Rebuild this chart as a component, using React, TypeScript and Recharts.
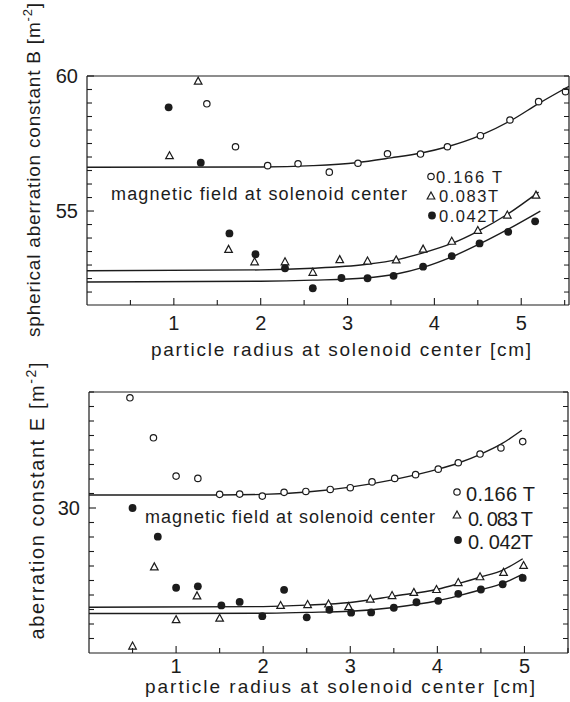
import React from 'react';
import { ComposedChart, Line, Scatter, XAxis, YAxis } from 'recharts';

// upper panel: spherical aberration constant B [m^-2] vs particle radius [cm]
const bRadius166 = [1.38, 1.71, 2.08, 2.43, 2.79, 3.12, 3.46, 3.84, 4.15, 4.53, 4.87, 5.2, 5.51];
const bValue166 = [58.97, 57.38, 56.68, 56.75, 56.44, 56.77, 57.12, 57.11, 57.38, 57.79, 58.37, 59.05, 59.42];
const bRadius083 = [0.95, 1.28, 1.63, 1.93, 2.28, 2.6, 2.91, 3.23, 3.56, 3.87, 4.2, 4.5, 4.84, 5.17];
const bValue083 = [57.05, 59.81, 53.58, 53.12, 53.12, 52.73, 53.2, 53.15, 53.19, 53.59, 53.88, 54.28, 54.85, 55.59];
const bRadius042 = [0.94, 1.31, 1.64, 1.94, 2.28, 2.6, 2.93, 3.23, 3.53, 3.87, 4.2, 4.52, 4.85, 5.16];
const bValue042 = [58.84, 56.79, 54.17, 53.4, 52.88, 52.14, 52.52, 52.51, 52.6, 52.94, 53.33, 53.8, 54.23, 54.62];

// fitted curves
const bFitR166 = [0, 2, 2.6, 3.1, 3.5, 3.85, 4.15, 4.53, 4.87, 5.2, 5.55];
const bFit166 = [56.62, 56.63, 56.68, 56.79, 56.97, 57.15, 57.38, 57.8, 58.33, 58.98, 59.62];
const bFitR083 = [0, 2, 2.6, 3.2, 3.6, 3.87, 4.2, 4.5, 4.85, 5.2];
const bFit083 = [52.79, 52.82, 52.88, 53.02, 53.22, 53.45, 53.8, 54.25, 54.9, 55.7];
const bFitR042 = [0, 2, 2.6, 3.2, 3.55, 3.88, 4.2, 4.52, 4.85, 5.22];
const bFit042 = [52.37, 52.4, 52.44, 52.52, 52.66, 52.92, 53.3, 53.78, 54.33, 55.0];

// lower panel: aberration constant E [m^-2]
const eRadius166 = [0.47, 0.74, 1.0, 1.25, 1.5, 1.73, 1.99, 2.24, 2.49, 2.77, 3.0, 3.25, 3.51, 3.75, 4.01, 4.24, 4.49, 4.73, 4.98];
const eValue166 = [33.8, 32.42, 31.1, 31.02, 30.47, 30.48, 30.41, 30.54, 30.57, 30.64, 30.7, 30.9, 31.02, 31.15, 31.34, 31.56, 31.86, 32.07, 32.29];
const eRadius083 = [0.5, 0.75, 1.0, 1.24, 1.5, 2.2, 2.51, 2.75, 2.98, 3.23, 3.48, 3.73, 3.99, 4.24, 4.49, 4.76, 4.99];
const eValue083 = [25.24, 27.97, 26.15, 26.97, 26.2, 26.64, 26.67, 26.69, 26.6, 26.86, 26.98, 27.09, 27.19, 27.43, 27.63, 27.78, 28.02];
const eRadius042 = [0.5, 0.79, 1.0, 1.25, 1.52, 1.73, 1.99, 2.24, 2.5, 2.76, 3.01, 3.24, 3.5, 3.76, 4.01, 4.24, 4.5, 4.75, 4.98];
const eValue042 = [30.0, 29.01, 27.25, 27.3, 26.64, 26.76, 26.27, 27.18, 26.23, 26.49, 26.39, 26.4, 26.56, 26.75, 26.8, 27.04, 27.19, 27.37, 27.59];

const eFitR166 = [0, 1.5, 2, 2.5, 3, 3.5, 4, 4.25, 4.5, 4.73, 4.97];
const eFit166 = [30.45, 30.45, 30.47, 30.55, 30.72, 30.98, 31.33, 31.56, 31.86, 32.2, 32.68];
const eFitR083 = [0, 2, 2.5, 3, 3.5, 4, 4.25, 4.5, 4.75, 4.98];
const eFit083 = [26.58, 26.6, 26.65, 26.74, 26.96, 27.2, 27.4, 27.62, 27.86, 28.25];
const eFitR042 = [0, 2, 2.5, 3, 3.5, 4, 4.25, 4.5, 4.75, 4.98];
const eFit042 = [26.36, 26.37, 26.4, 26.44, 26.57, 26.8, 26.98, 27.18, 27.4, 27.72];

// ticks
const bXTicks = [0.5, 1, 1.5, 2, 2.5, 3, 3.5, 4, 4.5, 5, 5.5];
const bYTicks = [52, 52.5, 53, 53.5, 54, 54.5, 55, 55.5, 56, 56.5, 57, 57.5, 58, 58.5, 59, 59.5, 60];
const bYLabels = [55, 60];
const eXTicks = [0.5, 1, 1.5, 2, 2.5, 3, 3.5, 4, 4.5, 5, 5.5];
const eYTicks = [25.5, 26, 26.5, 27, 27.5, 28, 28.5, 29, 29.5, 30, 30.5, 31, 31.5, 32, 32.5, 33, 33.5, 34];
const eYLabels = [25, 30];

const INK = '#1c1c1c';
const FONT = '"Liberation Sans", Arial, sans-serif';

const pts = (xs: number[], ys: number[]) => xs.map((x, i) => ({ x, y: ys[i] }));

const OpenCircle = (p: any) => (
  <circle cx={p.cx} cy={p.cy} r={3.2} fill="#fff" stroke={INK} strokeWidth={1.2} />
);
const OpenTriangle = (p: any) => (
  <path
    d={`M${p.cx},${p.cy - 4} L${p.cx + 3.8},${p.cy + 3} L${p.cx - 3.8},${p.cy + 3} Z`}
    fill="#fff" stroke={INK} strokeWidth={1.2}
  />
);
const FilledCircle = (p: any) => <circle cx={p.cx} cy={p.cy} r={3.9} fill={INK} />;

const bottomTick = (labelDy: number) => (props: any) => {
  const { x, y, payload } = props;
  const v = payload.value as number;
  const major = Number.isInteger(v);
  return (
    <g>
      <line x1={x} y1={y} x2={x} y2={y - (major ? 7 : 5)} stroke={INK} strokeWidth={1.1} />
      {major && (
        <text x={x} y={y + labelDy} textAnchor="middle" fontSize={20} fontFamily={FONT} fill={INK}>{v}</text>
      )}
    </g>
  );
};

const leftTick = (labels: number[]) => (props: any) => {
  const { x, y, payload } = props;
  const v = payload.value as number;
  const major = labels.includes(v);
  return (
    <g>
      <line x1={x} y1={y} x2={x + (major ? 7 : 5)} y2={y} stroke={INK} strokeWidth={1.1} />
      {major && (
        <text x={x - 9} y={y + 7} textAnchor="end" fontSize={20} fontFamily={FONT} fill={INK}>{v}</text>
      )}
    </g>
  );
};

const topTick = (props: any) => (
  <line x1={props.x} y1={props.y} x2={props.x} y2={props.y + 4} stroke={INK} strokeWidth={1} />
);
const rightTick = (props: any) => (
  <line x1={props.x} y1={props.y} x2={props.x - 5} y2={props.y} stroke={INK} strokeWidth={1} />
);

interface Series {
  marks: { x: number; y: number }[];
  fit: { x: number; y: number }[];
  shape: (p: any) => React.ReactElement;
}

interface PanelProps {
  top: number;
  height: number;
  margin: { top: number; right: number; bottom: number; left: number };
  xDomain: [number, number];
  yDomain: [number, number];
  xTicks: number[];
  yTicks: number[];
  yLabels: number[];
  xLabelDy: number;
  series: Series[];
}

// axes get a 1px band each (a 0px axis is not drawn), margins are reduced by 1 to compensate
const Panel: React.FC<PanelProps> = ({ top, height, margin, xDomain, yDomain, xTicks, yTicks, yLabels, xLabelDy, series }) => (
  <div style={{ position: 'absolute', left: 0, top }}>
    <ComposedChart width={570} height={height} margin={margin}>
      <XAxis type="number" dataKey="x" domain={xDomain} ticks={xTicks} interval={0} height={1}
        tickSize={0} tickMargin={0} tickLine={false} tick={bottomTick(xLabelDy)}
        axisLine={{ stroke: INK, strokeWidth: 1.2 }} allowDataOverflow />
      <XAxis xAxisId="top" orientation="top" type="number" domain={xDomain} ticks={xTicks} interval={0} height={1}
        tickSize={0} tickMargin={0} tickLine={false} tick={topTick}
        axisLine={{ stroke: INK, strokeWidth: 1.2 }} allowDataOverflow />
      <YAxis type="number" dataKey="y" domain={yDomain} ticks={yTicks} interval={0} width={1}
        tickSize={0} tickMargin={0} tickLine={false} tick={leftTick(yLabels)}
        axisLine={{ stroke: INK, strokeWidth: 1.2 }} allowDataOverflow />
      <YAxis yAxisId="right" orientation="right" type="number" domain={yDomain} ticks={yTicks} interval={0} width={1}
        tickSize={0} tickMargin={0} tickLine={false} tick={rightTick}
        axisLine={{ stroke: INK, strokeWidth: 1.2 }} allowDataOverflow />
      {series.map((s, i) => (
        <Line key={`fit${i}`} data={s.fit} dataKey="y" type="monotone" stroke={INK} strokeWidth={1.4}
          dot={false} activeDot={false} isAnimationActive={false} />
      ))}
      {series.map((s, i) => (
        <Scatter key={`pts${i}`} data={s.marks} dataKey="y" shape={s.shape} isAnimationActive={false} />
      ))}
    </ComposedChart>
  </div>
);

const LegendMarks: React.FC<{ x: number; ys: number[] }> = ({ x, ys }) => (
  <g>
    <OpenCircle cx={x} cy={ys[0]} />
    <OpenTriangle cx={x} cy={ys[1]} />
    <FilledCircle cx={x + 1} cy={ys[2]} />
  </g>
);

const App: React.FC = () => {
  const upper: Series[] = [
    { marks: pts(bRadius166, bValue166), fit: pts(bFitR166, bFit166), shape: OpenCircle },
    { marks: pts(bRadius083, bValue083), fit: pts(bFitR083, bFit083), shape: OpenTriangle },
    { marks: pts(bRadius042, bValue042), fit: pts(bFitR042, bFit042), shape: FilledCircle },
  ];
  const lower: Series[] = [
    { marks: pts(eRadius166, eValue166), fit: pts(eFitR166, eFit166), shape: OpenCircle },
    { marks: pts(eRadius083, eValue083), fit: pts(eFitR083, eFit083), shape: OpenTriangle },
    { marks: pts(eRadius042, eValue042), fit: pts(eFitR042, eFit042), shape: FilledCircle },
  ];

  return (
    <div style={{ position: 'absolute', left: 0, top: 0, width: 570, height: 702, background: '#fff', overflow: 'hidden' }}>
      <Panel top={0} height={350} margin={{ top: 75, right: 0, bottom: 44, left: 86 }}
        xDomain={[0, 5.55]} yDomain={[51.52, 60]} xTicks={bXTicks} yTicks={bYTicks} yLabels={bYLabels}
        xLabelDy={25} series={upper} />
      <Panel top={350} height={352} margin={{ top: 41, right: 1, bottom: 48, left: 88 }}
        xDomain={[0, 5.5]} yDomain={[25, 34]} xTicks={eXTicks} yTicks={eYTicks} yLabels={eYLabels}
        xLabelDy={20} series={lower} />

      <svg width={570} height={702} style={{ position: 'absolute', left: 0, top: 0, pointerEvents: 'none' }}
        fontFamily={FONT} fill={INK}>
        {/* axis titles */}
        <text transform="translate(40,170) rotate(-90)" textAnchor="middle" fontSize={19}
          textLength={334} lengthAdjust="spacing">
          spherical aberration constant B [m<tspan dy={-8} fontSize={13}>-2</tspan><tspan dy={8}>]</tspan>
        </text>
        <text transform="translate(44,501) rotate(-90)" textAnchor="middle" fontSize={20}
          textLength={277} lengthAdjust="spacing">
          aberration  constant E [m<tspan dy={-8} fontSize={14}>-2</tspan><tspan dy={8}>]</tspan>
        </text>
        <text x={151} y={356} fontSize={19} textLength={380} lengthAdjust="spacing">
          particle radius at solenoid center [cm]
        </text>
        <text x={145} y={693} fontSize={19} textLength={390} lengthAdjust="spacing">
          particle radius  at solenoid center [cm]
        </text>

        {/* annotations, upper */}
        <text x={111} y={200} fontSize={18} textLength={296} lengthAdjust="spacing">magnetic field at solenoid center</text>
        <LegendMarks x={431} ys={[176.5, 196, 215.5]} />
        <text x={436} y={182.5} fontSize={16.5} textLength={66} lengthAdjust="spacing">0.166 T</text>
        <text x={439} y={202} fontSize={16.5} textLength={59} lengthAdjust="spacing">0.083T</text>
        <text x={439} y={221.5} fontSize={16.5} textLength={59} lengthAdjust="spacing">0.042T</text>

        {/* annotations, lower */}
        <text x={145} y={523} fontSize={18} textLength={290} lengthAdjust="spacing">magnetic field at solenoid center</text>
        <LegendMarks x={457} ys={[492, 515, 540]} />
        <text x={466} y={501} fontSize={20} textLength={69} lengthAdjust="spacing">0.166 T</text>
        <text x={468} y={526} fontSize={20} textLength={65} lengthAdjust="spacing">0. 083 T</text>
        <text x={468} y={548.5} fontSize={20} textLength={65} lengthAdjust="spacing">0. 042T</text>
      </svg>
    </div>
  );
};

export default App;
